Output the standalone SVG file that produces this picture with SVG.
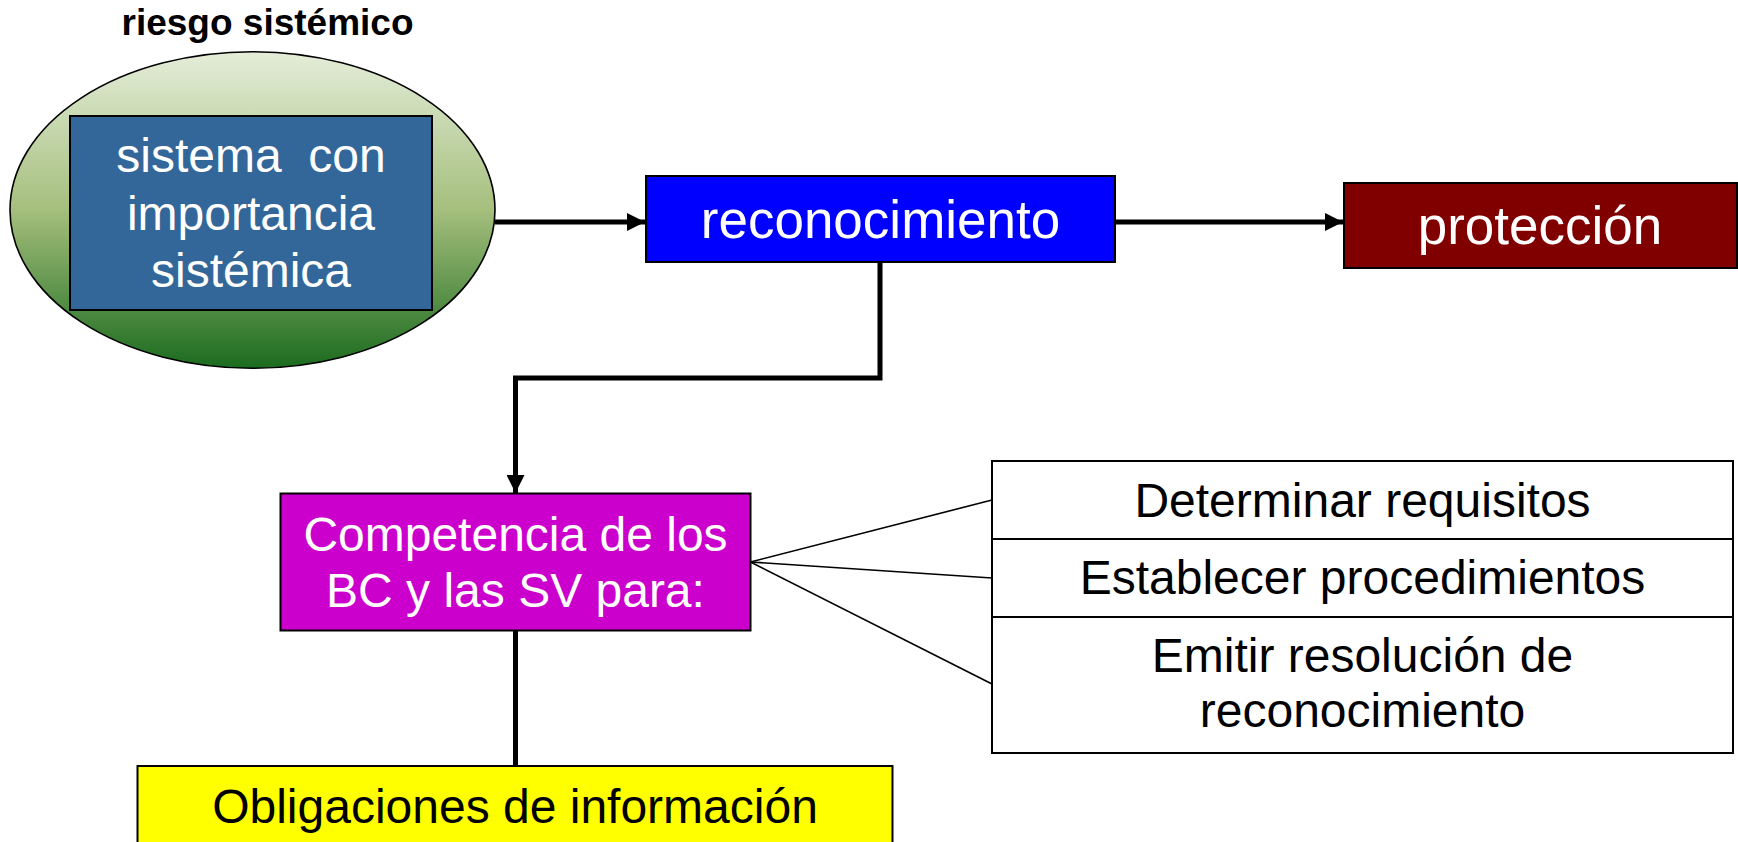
<svg xmlns="http://www.w3.org/2000/svg" width="1738" height="842" viewBox="0 0 1738 842">
<defs>
<linearGradient id="g" x1="0" y1="0" x2="0" y2="1">
<stop offset="0" stop-color="#e4edd9"/>
<stop offset="0.5" stop-color="#a5bf7d"/>
<stop offset="1" stop-color="#1b6b1e"/>
</linearGradient>
<marker id="ah" markerUnits="userSpaceOnUse" markerWidth="18" markerHeight="18" viewBox="0 0 18 18" refX="18" refY="9" orient="auto">
<path d="M0,0 L18,9 L0,18 Z" fill="#000"/>
</marker>
<style>
text{font-family:"Liberation Sans",Arial,sans-serif;text-anchor:middle}
.w{fill:#fff;font-size:48px}
.b{fill:#000;font-size:48px}
.big{font-size:53px}
.box{stroke:#000;stroke-width:2}
.con{fill:none;stroke:#000;stroke-width:5}
.fan{fill:none;stroke:#000;stroke-width:1.6}
</style>
</defs>
<g id="connectors">
<line class="con" x1="495" y1="222" x2="645" y2="222" marker-end="url(#ah)"/>
<line class="con" x1="1115" y1="222" x2="1343" y2="222" marker-end="url(#ah)"/>
<polyline class="con" points="880,262 880,378 515.5,378 515.5,493" marker-end="url(#ah)"/>
<line class="con" x1="515.5" y1="631" x2="515.5" y2="766"/>
<line class="fan" x1="750.5" y1="562" x2="992" y2="500"/>
<line class="fan" x1="750.5" y1="562" x2="992" y2="578"/>
<line class="fan" x1="750.5" y1="562" x2="992" y2="684"/>
</g>
<g id="title">
<text x="267.5" y="35" style="font-size:37px;font-weight:bold">riesgo sistémico</text>
</g>
<g id="riesgo">
<ellipse cx="252.5" cy="210" rx="242.5" ry="158.3" fill="url(#g)" stroke="#000" stroke-width="1.6"/>
</g>
<g id="sistema">
<rect class="box" x="70" y="116" width="362" height="194" fill="#346799"/>
<text class="w" x="251" y="172" style="white-space:pre">sistema  con</text>
<text class="w" x="251" y="230">importancia</text>
<text class="w" x="251" y="287">sistémica</text>
</g>
<g id="reconocimiento">
<rect class="box" x="646" y="176" width="469" height="86" fill="#0000ff"/>
<text class="w big" x="880.5" y="238">reconocimiento</text>
</g>
<g id="proteccion">
<rect class="box" x="1344" y="183" width="393" height="85" fill="#800000"/>
<text class="w big" x="1540" y="244">protección</text>
</g>
<g id="competencia">
<rect class="box" x="280.5" y="493.5" width="470" height="137" fill="#cc00cc"/>
<text class="w" x="515.5" y="551">Competencia de los</text>
<text class="w" x="515.5" y="607">BC y las SV para:</text>
</g>
<g id="lista">
<rect class="box" x="992" y="461" width="741" height="292" fill="#fff"/>
<line class="box" x1="992" y1="539" x2="1733" y2="539"/>
<line class="box" x1="992" y1="617" x2="1733" y2="617"/>
<text class="b" x="1362.5" y="517">Determinar requisitos</text>
<text class="b" x="1362.5" y="594">Establecer procedimientos</text>
<text class="b" x="1362.5" y="672">Emitir resolución de</text>
<text class="b" x="1362.5" y="727">reconocimiento</text>
</g>
<g id="obligaciones">
<rect class="box" x="137.5" y="766" width="755" height="90" fill="#ffff00"/>
<text class="b" x="515" y="823">Obligaciones de información</text>
</g>
</svg>
